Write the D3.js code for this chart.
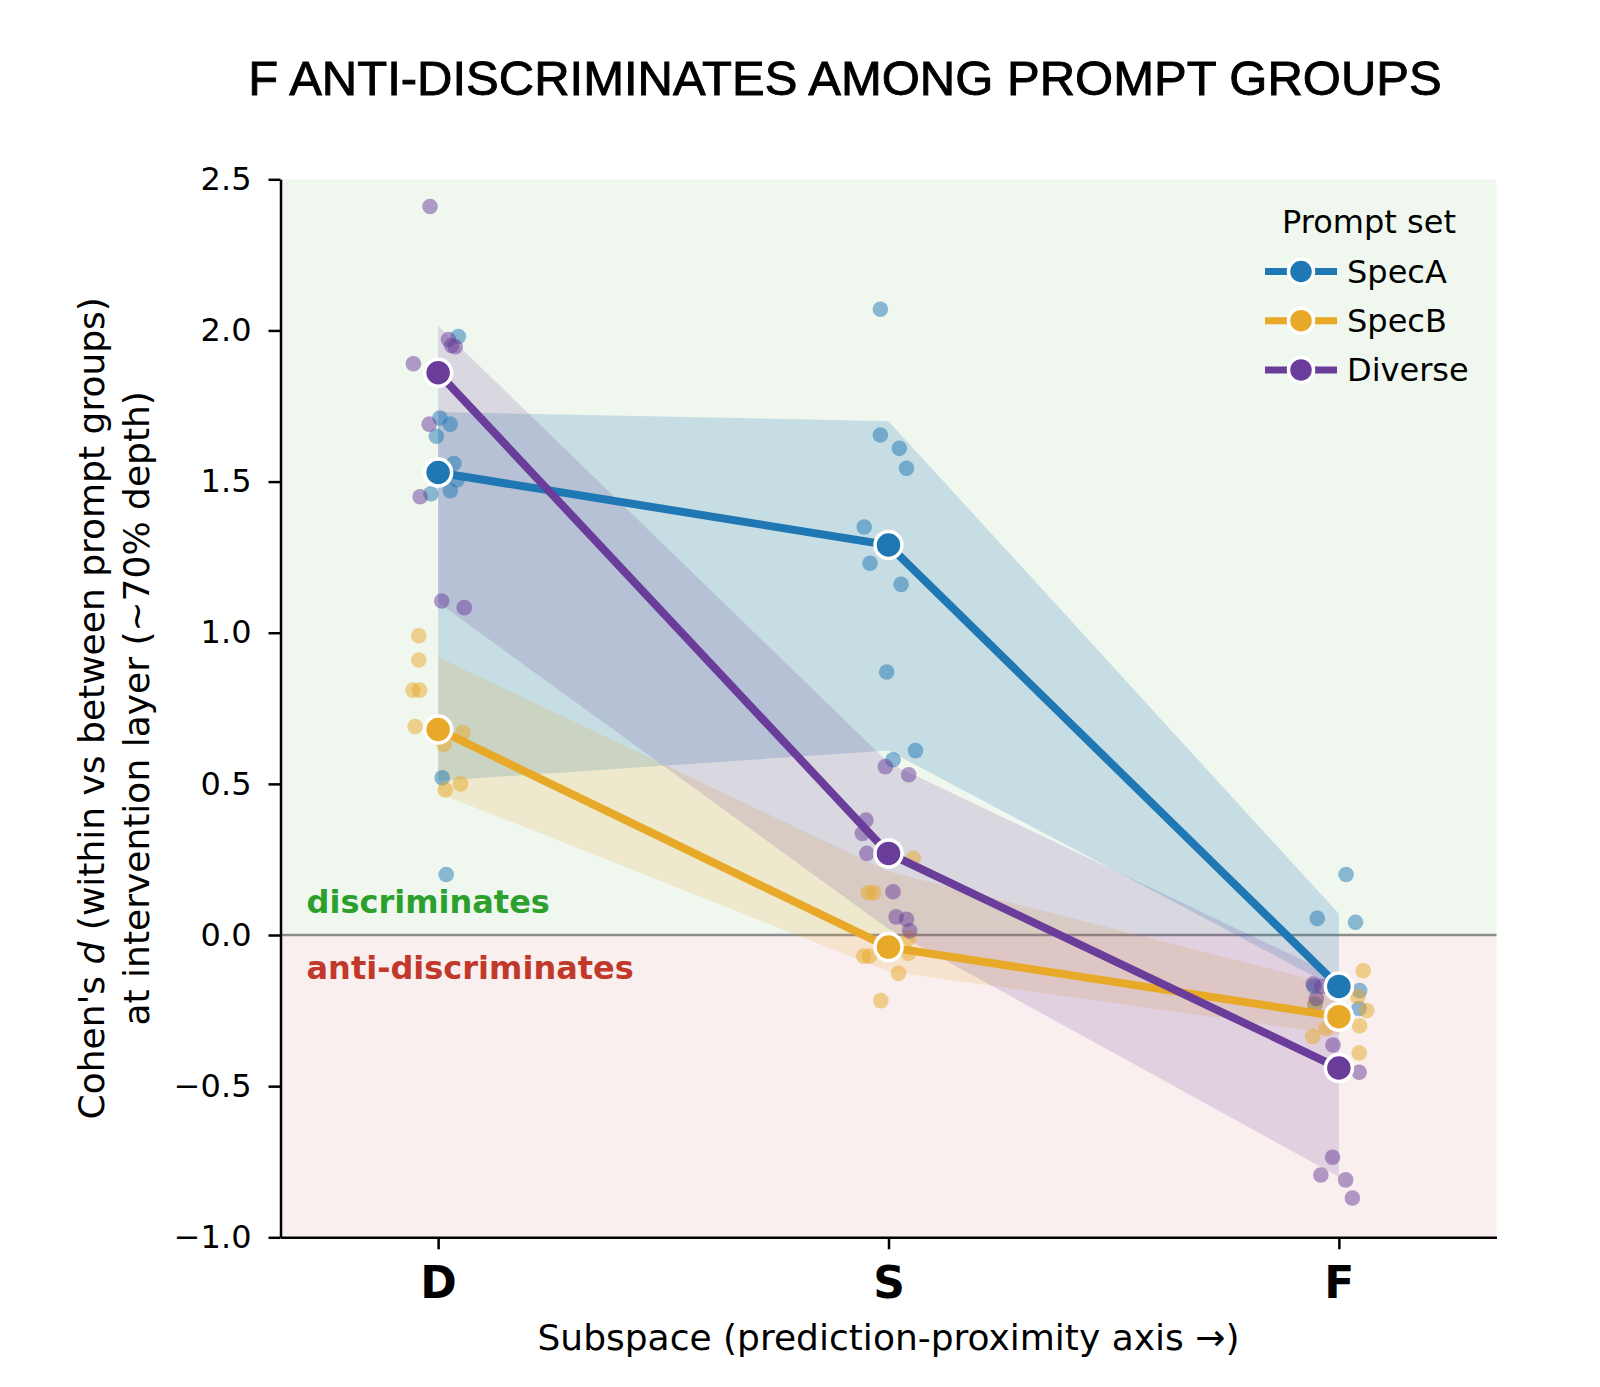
<!DOCTYPE html>
<html>
<head>
<meta charset="utf-8">
<script src="https://cdn.jsdelivr.net/npm/d3@7"></script>
<style>
  body { margin: 0; background: #fff; }
  text { font-family: "DejaVu Sans", sans-serif; }
</style>
</head>
<body>
<div id="chart"></div>
<script>
// categories on the x axis and the three prompt sets
var groups = ["D", "S", "F"];
var seriesNames = ["SpecA", "SpecB", "Diverse"];
var seriesColors = ["#1f77b4", "#e8a928", "#6a3d9a"];
var yTicks = [2.5, 2.0, 1.5, 1.0, 0.5, 0.0, -0.5, -1.0];

// group means (big markers)
var meanSpecA = [1.53, 1.29, -0.17];
var meanSpecB = [0.68, -0.04, -0.27];
var meanDiverse = [1.86, 0.27, -0.44];

// shaded band, upper / lower edge at D, S, F
var hiSpecA = [1.73, 1.70, 0.07];
var loSpecA = [0.51, 0.61, -0.18];
var hiSpecB = [0.92, 0.21, -0.17];
var loSpecB = [0.47, -0.12, -0.33];
var hiDiverse = [2.015, 0.57, -0.14];
var loDiverse = [1.10, 0.02, -0.80];

// individual runs, one list per subspace, plus their strip jitter (x units)
var ptsSpecA = [
  [1.98, 1.71, 1.69, 1.65, 1.56, 1.505, 1.47, 1.46, 0.52, 0.20],
  [2.07, 1.654, 1.61, 1.544, 1.35, 1.23, 1.16, 0.87, 0.61, 0.58],
  [0.20, 0.055, 0.042, -0.17, -0.184, -0.23, -0.243]
];
var jitSpecA = [
  [0.045, 0.004, 0.027, -0.004, 0.035, 0.042, 0.027, -0.016, 0.009, 0.018],
  [-0.018, -0.018, 0.024, 0.04, -0.054, -0.041, 0.028, -0.004, 0.06, 0.01],
  [0.016, -0.048, 0.037, -0.055, 0.046, -0.053, 0.045]
];
var ptsSpecB = [
  [0.99, 0.91, 0.81, 0.81, 0.69, 0.67, 0.63, 0.50, 0.48],
  [0.254, 0.14, 0.14, -0.01, -0.06, -0.07, -0.07, -0.127, -0.217],
  [-0.118, -0.204, -0.226, -0.25, -0.30, -0.31, -0.336, -0.39]
];
var jitSpecB = [
  [-0.043, -0.043, -0.056, -0.041, -0.051, 0.055, 0.013, 0.05, 0.016],
  [0.055, -0.033, -0.045, 0.045, 0.044, -0.042, -0.055, 0.022, -0.017],
  [0.054, 0.042, -0.053, 0.062, 0.046, -0.029, -0.058, 0.045]
];
var ptsDiverse = [
  [2.41, 1.97, 1.95, 1.946, 1.89, 1.69, 1.45, 1.105, 1.083],
  [0.557, 0.53, 0.38, 0.336, 0.27, 0.143, 0.06, 0.052, 0.014],
  [-0.162, -0.17, -0.21, -0.364, -0.454, -0.735, -0.794, -0.81, -0.87]
];
var jitDiverse = [
  [-0.018, 0.023, 0.03, 0.038, -0.055, -0.02, -0.04, 0.008, 0.058],
  [-0.007, 0.045, -0.05, -0.058, -0.048, 0.01, 0.017, 0.04, 0.047],
  [-0.057, -0.038, -0.05, -0.013, 0.045, -0.014, -0.04, 0.015, 0.03]
];

window.onload = () => {

  var means = [meanSpecA, meanSpecB, meanDiverse];
  var his = [hiSpecA, hiSpecB, hiDiverse];
  var los = [loSpecA, loSpecB, loDiverse];
  var pts = [ptsSpecA, ptsSpecB, ptsDiverse];
  var jits = [jitSpecA, jitSpecB, jitDiverse];

  // set the dimensions and margins of the graph
  var margin = { top: 179.3, right: 103.5, bottom: 149.7, left: 280.5 },
    width = 1600 - margin.left - margin.right,
    height = 1387 - margin.top - margin.bottom;

  var root = d3.select("#chart")
    .append("svg")
    .attr("width", 1600)
    .attr("height", 1387);

  root.append("rect").attr("width", 1600).attr("height", 1387).style("fill", "#fff");

  var svg = root.append("g")
    .attr("transform", "translate(" + margin.left + "," + margin.top + ")");

  var x = d3.scaleLinear().domain([-0.35, 2.35]).range([0, width]);
  var y = d3.scaleLinear().domain([-1, 2.5]).range([height, 0]);

  // green / red halves of the plot
  svg.append("rect")
    .attr("x", 0).attr("y", 0)
    .attr("width", width).attr("height", y(0))
    .style("fill", "#f0f7ef");
  svg.append("rect")
    .attr("x", 0).attr("y", y(0))
    .attr("width", width).attr("height", height - y(0))
    .style("fill", "#f9efee");

  svg.append("line")
    .attr("x1", 0).attr("x2", width)
    .attr("y1", y(0)).attr("y2", y(0))
    .style("stroke", "#8c8c8c").style("stroke-width", 2.5);

  svg.append("text")
    .attr("x", 26).attr("y", y(0) - 22)
    .style("font-size", "32px").style("font-weight", "bold")
    .style("fill", "#2ca02c")
    .text("discriminates");
  svg.append("text")
    .attr("x", 26).attr("y", y(0) + 44)
    .style("font-size", "32px").style("font-weight", "bold")
    .style("fill", "#c0392b")
    .text("anti-discriminates");

  // bands
  var band = d3.area()
    .x(function (d, i) { return x(i); })
    .y0(function (d) { return y(d[0]); })
    .y1(function (d) { return y(d[1]); });

  var bandAlpha = [0.2, 0.17, 0.17];
  seriesNames.forEach(function (s, k) {
    var rows = groups.map(function (g, i) { return [los[k][i], his[k][i]]; });
    svg.append("path")
      .datum(rows)
      .attr("d", band)
      .style("fill", seriesColors[k])
      .style("fill-opacity", bandAlpha[k]);
  });

  // jittered individual points
  seriesNames.forEach(function (s, k) {
    var flat = [];
    groups.forEach(function (g, i) {
      pts[k][i].forEach(function (v, j) {
        flat.push({ gx: i + jits[k][i][j], v: v });
      });
    });
    svg.append("g")
      .selectAll("circle")
      .data(flat)
      .enter()
      .append("circle")
      .attr("cx", function (d) { return x(d.gx); })
      .attr("cy", function (d) { return y(d.v); })
      .attr("r", 7.8)
      .style("fill", seriesColors[k])
      .style("fill-opacity", 0.5);
  });

  // mean lines + markers
  var line = d3.line()
    .x(function (d, i) { return x(i); })
    .y(function (d) { return y(d); });

  seriesNames.forEach(function (s, k) {
    svg.append("path")
      .datum(means[k])
      .attr("d", line)
      .style("fill", "none")
      .style("stroke", seriesColors[k])
      .style("stroke-width", 8);
  });
  seriesNames.forEach(function (s, k) {
    svg.append("g")
      .selectAll("circle")
      .data(means[k])
      .enter()
      .append("circle")
      .attr("cx", function (d, i) { return x(i); })
      .attr("cy", function (d) { return y(d); })
      .attr("r", 13.5)
      .style("fill", seriesColors[k])
      .style("stroke", "#fff")
      .style("stroke-width", 3.5);
  });

  // axes
  var yAxis = svg.append("g")
    .call(d3.axisLeft(y)
      .tickValues(yTicks)
      .tickSize(12)
      .tickSizeOuter(0)
      .tickPadding(17)
      .tickFormat(function (d) { return d3.format(".1f")(d).replace("-", "\u2212"); }));
  yAxis.selectAll("text").style("font-size", "32px").style("fill", "#000");

  var xAxis = svg.append("g")
    .attr("transform", "translate(0," + height + ")")
    .call(d3.axisBottom(x)
      .tickValues([0, 1, 2])
      .tickSize(12)
      .tickSizeOuter(0)
      .tickPadding(17)
      .tickFormat(function (d) { return groups[d]; }));
  xAxis.selectAll("text")
    .style("font-size", "44px").style("font-weight", "bold").style("fill", "#000");

  svg.selectAll(".domain, .tick line").style("stroke", "#000").style("stroke-width", 2.5);

  // axis labels
  svg.append("text")
    .attr("text-anchor", "middle")
    .attr("x", x(1))
    .attr("y", height + 113)
    .style("font-size", "36px")
    .text("Subspace (prediction-proximity axis \u2192)");

  var yl = svg.append("text")
    .attr("text-anchor", "middle")
    .attr("transform", "rotate(-90)")
    .attr("x", -height / 2)
    .attr("y", -margin.left + 104)
    .style("font-size", "36px");
  yl.append("tspan").text("Cohen's ");
  yl.append("tspan").style("font-style", "italic").text("d");
  yl.append("tspan").text(" (within vs between prompt groups)");

  svg.append("text")
    .attr("text-anchor", "middle")
    .attr("transform", "rotate(-90)")
    .attr("x", -height / 2)
    .attr("y", -margin.left + 149)
    .style("font-size", "36px")
    .text("at intervention layer (~70% depth)");

  // legend
  var leg = svg.append("g").attr("transform", "translate(" + (1369 - margin.left) + "," + (233 - margin.top) + ")");
  leg.append("text")
    .attr("text-anchor", "middle")
    .style("font-size", "32px")
    .text("Prompt set");

  seriesNames.forEach(function (s, k) {
    var row = leg.append("g").attr("transform", "translate(0," + (38.5 + k * 49.2) + ")");
    row.append("line")
      .attr("x1", -104).attr("x2", -32)
      .style("stroke", seriesColors[k]).style("stroke-width", 7);
    row.append("circle")
      .attr("cx", -68).attr("r", 12.5)
      .style("fill", seriesColors[k])
      .style("stroke", "#fff").style("stroke-width", 3.5);
    row.append("text")
      .attr("x", -22).attr("y", 11)
      .style("font-size", "32px")
      .text(s);
  });

  // title
  root.append("text")
    .attr("text-anchor", "middle")
    .attr("x", 845)
    .attr("y", 95)
    .style("font-family", "'Liberation Sans', Arial, sans-serif")
    .style("font-size", "49px")
    .style("stroke", "#000")
    .style("stroke-width", 0.9)
    .text("F ANTI-DISCRIMINATES AMONG PROMPT GROUPS");
};
</script>
</body>
</html>
